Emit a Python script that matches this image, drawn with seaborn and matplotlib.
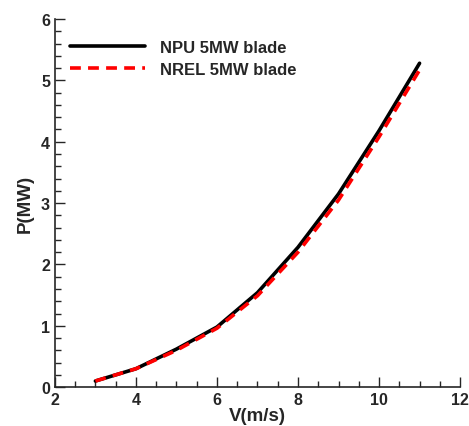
import matplotlib
matplotlib.use("Agg")
import matplotlib.pyplot as plt
import seaborn as sns
import pandas as pd
from matplotlib.ticker import MultipleLocator

# Data
wind_speed = [3, 4, 5, 6, 7, 8, 9, 10, 11]
npu_power = [0.10, 0.30, 0.62, 0.98, 1.54, 2.28, 3.15, 4.18, 5.28]
nrel_power = [0.10, 0.30, 0.60, 0.96, 1.49, 2.20, 3.05, 4.08, 5.17]
series_names = ["NPU 5MW blade", "NREL 5MW blade"]
x_ticks = [2, 4, 6, 8, 10, 12]
y_ticks = [0, 1, 2, 3, 4, 5, 6]

df = pd.DataFrame({
    "V": wind_speed * 2,
    "P": npu_power + nrel_power,
    "blade": [series_names[0]] * len(wind_speed) + [series_names[1]] * len(wind_speed),
})

sns.set_style("ticks")
plt.rcParams["font.family"] = ["Liberation Sans", "DejaVu Sans"]
plt.rcParams["font.weight"] = "bold"

fig = plt.figure(figsize=(4.69, 4.27), dpi=100)
ax = fig.add_axes([0.117, 0.091, 0.864, 0.862])

sns.lineplot(data=df, x="V", y="P", hue="blade", style="blade",
             palette={series_names[0]: "black", series_names[1]: "red"},
             dashes={series_names[0]: "", series_names[1]: (3, 2)},
             linewidth=2.6, ax=ax)

ax.set_xlim(2, 12)
ax.set_ylim(0, 6)
ax.set_xticks(x_ticks, [str(t) for t in x_ticks], fontweight="bold", fontsize=11.5)
ax.set_yticks(y_ticks, [str(t) for t in y_ticks], fontweight="bold", fontsize=11.5)
ax.xaxis.set_minor_locator(MultipleLocator(0.5))
ax.yaxis.set_minor_locator(MultipleLocator(0.2))
ax.tick_params(which="both", direction="in", width=1)
ax.tick_params(which="major", length=7)
ax.tick_params(which="minor", length=4)

sns.despine(ax=ax)
for s in ["left", "bottom"]:
    ax.spines[s].set_linewidth(1.2)

ax.set_xlabel("V(m/s)", fontsize=13.5, fontweight="bold", labelpad=0)
ax.set_ylabel("P(MW)", fontsize=13.5, fontweight="bold", labelpad=5)

leg = ax.legend(title=None, frameon=False, loc="upper left",
                bbox_to_anchor=(0.0, 0.985), handlelength=4.5,
                handletextpad=0.9, labelspacing=0.45,
                prop={"size": 12, "weight": "bold"})

fig.savefig("out.png", dpi=100)
